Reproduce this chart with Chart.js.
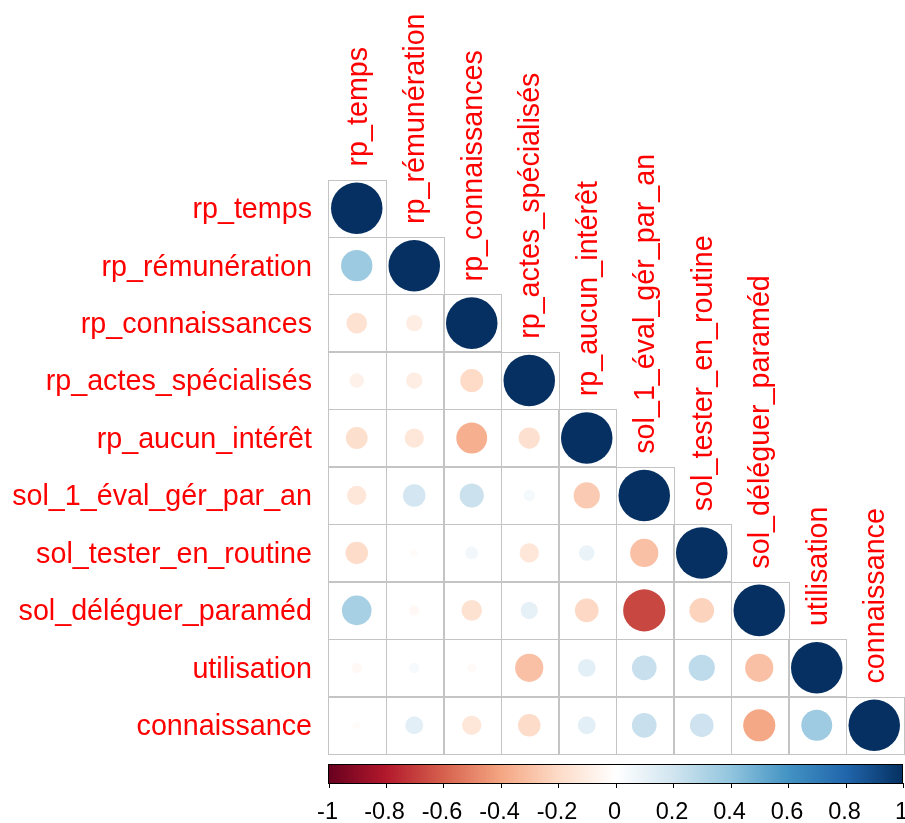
<!DOCTYPE html>
<html>
<head>
<meta charset="utf-8">
<script src="https://cdn.jsdelivr.net/npm/chart.js@4.4.0/dist/chart.umd.min.js"></script>
<style>
html,body{margin:0;padding:0;background:#fff;}
</style>
</head>
<body>
<canvas id="myChart" width="905" height="823"></canvas>
<script>
// variables (ordre des lignes / colonnes)
const topLabels = ['rp_temps','rp_rémunération','rp_connaissances','rp_actes_spécialisés','rp_aucun_intérêt',
	'sol_1_éval_gér_par_an','sol_tester_en_routine','sol_déléguer_paraméd','utilisation','connaissance'];
const leftLabels = ['rp_temps','rp_rémunération','rp_connaissances','rp_actes_spécialisés','rp_aucun_intérêt',
	'sol_1_éval_gér_par_an','sol_tester_en_routine','sol_déléguer_paraméd','utilisation','connaissance'];

// corrélations, triangle inférieur (ligne par ligne)
const cor_temps         = [1];
const cor_remuneration  = [0.37, 1];
const cor_connaissances = [-0.16, -0.10, 1];
const cor_actes         = [-0.08, -0.10, -0.20, 1];
const cor_aucun         = [-0.18, -0.14, -0.36, -0.17, 1];
const cor_eval          = [-0.14, 0.19, 0.22, 0.05, -0.26, 1];
const cor_tester        = [-0.19, -0.02, 0.06, -0.14, 0.09, -0.30, 1];
const cor_deleguer      = [0.33, -0.04, -0.16, 0.11, -0.21, -0.67, -0.23, 1];
const cor_utilisation   = [-0.04, 0.04, -0.03, -0.30, 0.12, 0.23, 0.26, -0.30, 1];
const cor_connaissance  = [-0.02, 0.12, -0.14, -0.19, 0.12, 0.23, 0.21, -0.39, 0.36, 1];

const colorbarTicks = [-1, -0.8, -0.6, -0.4, -0.2, 0, 0.2, 0.4, 0.6, 0.8, 1];
const rdbu = ['#67001F','#B2182B','#D6604D','#F4A582','#FDDBC7','#FFFFFF','#D1E5F0','#92C5DE','#4393C3','#2166AC','#053061'];

const rows = [cor_temps, cor_remuneration, cor_connaissances, cor_actes, cor_aucun,
	cor_eval, cor_tester, cor_deleguer, cor_utilisation, cor_connaissance];

//points {x: colonne, y: ligne, v: corrélation}
let points = [];
rows.forEach((row, i) => {
	row.forEach((v, j) => {
		points.push({x: j + 1, y: i + 1, v: v});
	});
});

function hex2rgb(h){
	return [parseInt(h.substr(1,2),16), parseInt(h.substr(3,2),16), parseInt(h.substr(5,2),16)];
}
function corColor(v){
	let t = (v + 1) / 2 * 10;
	let i = Math.min(9, Math.floor(t));
	let f = t - i;
	let a = hex2rgb(rdbu[i]), b = hex2rgb(rdbu[i+1]);
	let c = a.map((x, k) => Math.round(x + (b[k] - x) * f));
	return `rgb(${c[0]},${c[1]},${c[2]})`;
}
function cellSize(chart){
	const s = chart.scales.x;
	return s.getPixelForValue(2) - s.getPixelForValue(1);
}

const FONT = '"Liberation Sans", Arial, sans-serif';

// grille du triangle
const gridPlugin = {
	id: 'corrGrid',
	beforeDatasetsDraw(chart){
		const c = chart.ctx, sx = chart.scales.x, sy = chart.scales.y;
		c.save();
		c.strokeStyle = '#c4c4c4';
		c.lineWidth = 1;
		for (let i = 1; i <= rows.length; i++) {
			for (let j = 1; j <= i; j++) {
				let x0 = sx.getPixelForValue(j - 0.5), x1 = sx.getPixelForValue(j + 0.5);
				let y0 = sy.getPixelForValue(i - 0.5), y1 = sy.getPixelForValue(i + 0.5);
				c.strokeRect(Math.round(x0) + 0.5, Math.round(y0) + 0.5, Math.round(x1 - x0), Math.round(y1 - y0));
			}
		}
		c.restore();
	}
};

// étiquettes + barre de couleur
const labelPlugin = {
	id: 'corrLabels',
	afterDraw(chart){
		const c = chart.ctx, sx = chart.scales.x, sy = chart.scales.y, area = chart.chartArea;
		c.save();
		c.fillStyle = '#ff0000';
		c.font = '28.7px ' + FONT;
		//gauche
		c.textAlign = 'right';
		c.textBaseline = 'middle';
		leftLabels.forEach((t, i) => {
			c.fillText(t, area.left - 16, sy.getPixelForValue(i + 1) + 2);
		});
		//haut (vertical)
		c.textAlign = 'left';
		topLabels.forEach((t, j) => {
			let x = sx.getPixelForValue(j + 1);
			let y = sy.getPixelForValue(j + 0.5) - 13;
			c.save();
			c.translate(x + 2, y);
			c.rotate(-Math.PI / 2);
			c.fillText(t, 0, 0);
			c.restore();
		});
		//barre de couleur
		let top = area.bottom + 10, h = 19;
		let x0 = sx.getPixelForValue(0.5), x1 = sx.getPixelForValue(10.5);
		let g = c.createLinearGradient(x0, 0, x1, 0);
		rdbu.forEach((col, k) => g.addColorStop(k / 10, col));
		c.fillStyle = g;
		c.fillRect(x0, top, x1 - x0, h);
		c.strokeStyle = '#000';
		c.lineWidth = 1;
		c.strokeRect(x0 + 0.5, top + 0.5, x1 - x0 - 1, h);
		c.fillStyle = '#000';
		c.font = '23.5px ' + FONT;
		c.textAlign = 'center';
		c.textBaseline = 'alphabetic';
		colorbarTicks.forEach((v) => {
			let x = x0 + (v + 1) / 2 * (x1 - x0);
			x = Math.min(Math.max(x, x0 + 0.5), x1 - 0.5);
			c.beginPath();
			c.moveTo(Math.round(x) + 0.5, top + h);
			c.lineTo(Math.round(x) + 0.5, top + h + 5);
			c.stroke();
			c.fillText(String(v), x - 1, top + h + 36);
		});
		c.restore();
	}
};

const ctx = document.getElementById('myChart');

new Chart(ctx, {
	type: 'scatter',
	data: {
		datasets: [{
			data: points,
			pointRadius: (p) => p.raw ? Math.sqrt(Math.abs(p.raw.v)) * 0.448 * cellSize(p.chart) : 0,
			pointBackgroundColor: (p) => p.raw ? corColor(p.raw.v) : '#fff',
			pointBorderWidth: 0,
			pointHoverRadius: (p) => p.raw ? Math.sqrt(Math.abs(p.raw.v)) * 0.448 * cellSize(p.chart) : 0
		}]
	},
	options: {
		responsive: false,
		animation: false,
		devicePixelRatio: 1,
		events: [],
		layout: {padding: {left: 328, right: 2, top: 179.5, bottom: 69}},
		plugins: {legend: {display: false}, tooltip: {enabled: false}},
		scales: {
			x: {type: 'linear', min: 0.5, max: 10.5, display: false},
			y: {type: 'linear', min: 0.5, max: 10.5, reverse: true, display: false}
		}
	},
	plugins: [gridPlugin, labelPlugin]
});
</script>
</body>
</html>
